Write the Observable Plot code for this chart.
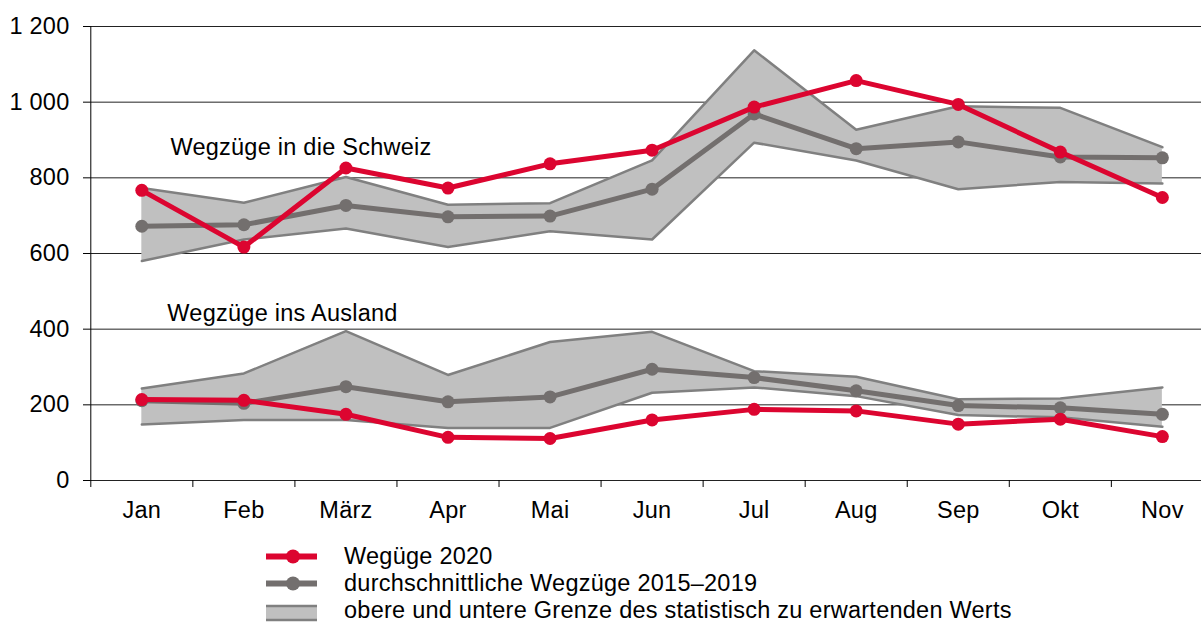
<!DOCTYPE html>
<html><head><meta charset="utf-8">
<script src="https://cdn.jsdelivr.net/npm/d3@7"></script>
<script src="https://cdn.jsdelivr.net/npm/@observablehq/plot@0.6"></script>
<style>
html,body{margin:0;padding:0;background:#fff;overflow:hidden;}
body{font-family:"Liberation Sans",Arial,sans-serif;width:1201px;height:624px;}
#legend{margin-top:3px;}
.row{height:27px;display:flex;align-items:center;font-size:23.5px;letter-spacing:0.25px;color:#000;white-space:nowrap;}
.row svg{margin-left:266px;width:51px;height:27px;flex:none;}
.row span{margin-left:27px;}
svg text{letter-spacing:0.25px;}
</style></head><body>
<div id="chart"></div>
<div id="legend"></div>
<script>
const months = ["Jan","Feb","März","Apr","Mai","Jun","Jul","Aug","Sep","Okt","Nov"];
// Wegzüge in die Schweiz
const chWeg2020 = [767, 617, 826, 773, 837, 873, 987, 1057, 994, 868, 748];
const chAvg     = [672, 676, 727, 697, 699, 770, 969, 877, 895, 855, 853];
const chUpper   = [773, 734, 802, 729, 733, 846, 1137, 927, 989, 985, 881];
const chLower   = [580, 637, 666, 617, 659, 637, 893, 846, 770, 789, 785];
// Wegzüge ins Ausland
const abWeg2020 = [214, 212, 175, 114, 111, 160, 188, 184, 149, 162, 116];
const abAvg     = [211, 204, 248, 208, 221, 294, 272, 237, 198, 192, 175];
const abUpper   = [243, 283, 395, 279, 366, 393, 289, 274, 215, 217, 246];
const abLower   = [148, 160, 160, 139, 139, 232, 246, 223, 173, 167, 142];
const yTicks = [0, 200, 400, 600, 800, 1000, 1200];
const groupLabels = ["Wegzüge in die Schweiz", "Wegzüge ins Ausland"];
const legendLabels = ["Wegüge 2020", "durchschnittliche Wegzüge 2015–2019", "obere und untere Grenze des statistisch zu erwartenden Werts"];

const RED = "#dc0530", GRAY = "#736f6e", BAND = "#c0c0c0", BANDLINE = "#808080";

const rows = [];
months.forEach((m, i) => {
  rows.push({i, g: "ch", v: chWeg2020[i], avg: chAvg[i], hi: chUpper[i], lo: chLower[i]});
});
months.forEach((m, i) => {
  rows.push({i, g: "ab", v: abWeg2020[i], avg: abAvg[i], hi: abUpper[i], lo: abLower[i]});
});
const bounds = d3.range(months.length + 1).map(k => k - 0.5);
const fmt = d => d3.format(",")(d).replace(/,/g, " ");

const annotations = [
  {text: groupLabels[0], x: 0.28, y: 879},
  {text: groupLabels[1], x: 0.25, y: 442}
];

const chart = Plot.plot({
  width: 1201, height: 540,
  marginTop: 26, marginBottom: 60, marginLeft: 90, marginRight: 0,
  x: {type: "linear", domain: [-0.5, 10.5], range: [90.3, 1212.9]},
  y: {domain: [0, 1200]},
  style: {fontFamily: '"Liberation Sans", Arial, sans-serif', fontSize: "23.5px", color: "#000", background: "#fff"},
  marks: [
    Plot.gridY(yTicks, {stroke: "#222", strokeOpacity: 1, strokeWidth: 1}),
    Plot.areaY(rows, {x: "i", y1: "lo", y2: "hi", z: "g", fill: BAND}),
    Plot.lineY(rows, {x: "i", y: "hi", z: "g", stroke: BANDLINE, strokeWidth: 2.5}),
    Plot.lineY(rows, {x: "i", y: "lo", z: "g", stroke: BANDLINE, strokeWidth: 2.5}),
    Plot.ruleX([-0.5], {y1: 0, y2: 1200, stroke: "#000", strokeWidth: 1}),
    Plot.axisY(yTicks, {tickSize: 7, tickPadding: 14, tickFormat: fmt, stroke: "#000", label: null, fontSize: 23.5}),
    Plot.axisX(d3.range(months.length), {tickSize: 0, tickPadding: 21, tickFormat: i => months[i], label: null, fontSize: 23.5}),
    Plot.axisX(bounds, {tickSize: 7, tickFormat: () => "", stroke: "#000", label: null}),
    Plot.lineY(rows, {x: "i", y: "avg", z: "g", stroke: GRAY, strokeWidth: 5}),
    Plot.dot(rows, {x: "i", y: "avg", r: 6.5, fill: GRAY}),
    Plot.lineY(rows, {x: "i", y: "v", z: "g", stroke: RED, strokeWidth: 5}),
    Plot.dot(rows, {x: "i", y: "v", r: 6.5, fill: RED}),
    Plot.text(annotations, {x: "x", y: "y", text: "text", textAnchor: "start", fontSize: 23.5, fill: "#000"})
  ]
});
document.getElementById("chart").append(chart);

const sym = [
  `<line x1="0" y1="13.5" x2="51" y2="13.5" stroke="${RED}" stroke-width="6"/><circle cx="27" cy="13.5" r="7" fill="${RED}"/>`,
  `<line x1="0" y1="13.5" x2="51" y2="13.5" stroke="${GRAY}" stroke-width="6"/><circle cx="27" cy="13.5" r="7" fill="${GRAY}"/>`,
  `<rect x="0" y="8" width="51" height="16" fill="${BAND}"/><line x1="0" y1="9" x2="51" y2="9" stroke="${BANDLINE}" stroke-width="2.5"/><line x1="0" y1="23" x2="51" y2="23" stroke="${BANDLINE}" stroke-width="2.5"/>`
];
const leg = document.getElementById("legend");
legendLabels.forEach((t, k) => {
  const row = document.createElement("div");
  row.className = "row";
  row.innerHTML = `<svg viewBox="0 0 51 27">${sym[k]}</svg><span></span>`;
  row.querySelector("span").textContent = t;
  leg.append(row);
});
</script>
</body></html>
